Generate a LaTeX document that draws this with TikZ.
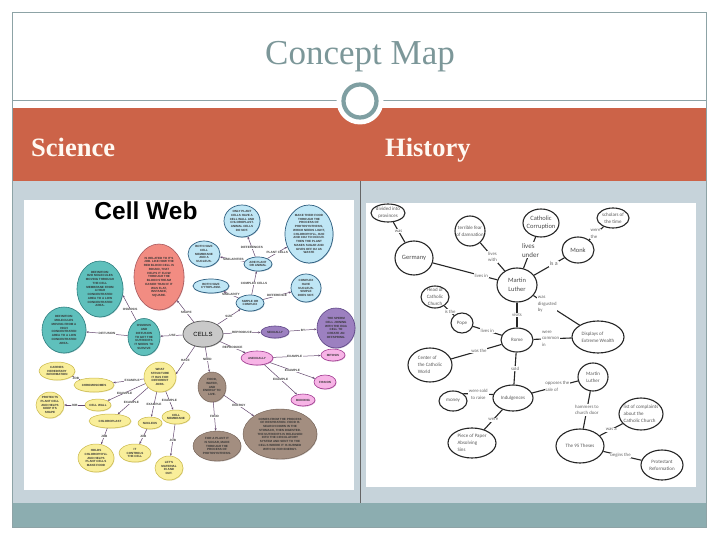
\documentclass[tikz,border=0pt]{standalone}
\usepackage{fontspec}
\setmainfont{Liberation Serif}
\newfontfamily\lsans{Liberation Sans}
\newfontfamily\carl{Carlito}
\usetikzlibrary{shapes.geometric,arrows.meta,shadows}
\definecolor{panelc}{HTML}{C6D3DA}
\definecolor{footc}{HTML}{8CADB0}
\definecolor{framec}{HTML}{8DA3A6}
\definecolor{orangec}{HTML}{CC6348}
\definecolor{titlec}{HTML}{7C9799}
\definecolor{ringc}{HTML}{7F9FA2}
\definecolor{cteal}{HTML}{5FC0BC}\definecolor{dteal}{HTML}{2F7F80}
\definecolor{cred}{HTML}{F28C82}\definecolor{dred}{HTML}{A85A5F}
\definecolor{cblue}{HTML}{BFE6F5}\definecolor{dblue}{HTML}{2F5F80}
\definecolor{cyel}{HTML}{F9EE9A}\definecolor{dyel}{HTML}{C9B84A}
\definecolor{cpur}{HTML}{9C80C0}\definecolor{dpur}{HTML}{5D4585}
\definecolor{cpink}{HTML}{F7B4E6}\definecolor{dpink}{HTML}{A03A90}
\definecolor{cbrown}{HTML}{A38E80}\definecolor{dbrown}{HTML}{6E5D52}
\definecolor{cgrey}{HTML}{C9C9C9}\definecolor{dgrey}{HTML}{555555}
\definecolor{edgec}{HTML}{64486F}
\tikzset{
  ell/.style={ellipse,inner sep=0pt,draw},
  soft/.style={drop shadow={shadow xshift=.5pt,shadow yshift=-.7pt,opacity=.45,fill=#1}},
  teal/.style={fill=cteal,draw=dteal,line width=.6pt,soft=dteal},
  redl/.style={fill=cred,draw=dred,line width=.6pt,soft=dred},
  blue/.style={fill=cblue,draw=dblue,line width=.7pt,soft=dblue},
  yel/.style={fill=cyel,draw=dyel,line width=.5pt,soft=dyel},
  pur/.style={fill=cpur,draw=dpur,line width=.6pt,soft=dpur},
  pnk/.style={fill=cpink,draw=dpink,line width=.6pt,soft=dpink},
  brn/.style={fill=cbrown,draw=dbrown,line width=.4pt,soft=dbrown},
  gry/.style={fill=cgrey,draw=dgrey,line width=.7pt,soft=dgrey},
  blk/.style={fill=white,draw=black!85,line width=1.1pt},
  sci/.style={font=\lsans\bfseries\fontsize{3}{3.75}\selectfont,text=black!80,align=center,inner sep=0pt},
  hist/.style={font=\carl\fontsize{5}{7}\selectfont,text=black!65,align=center,inner sep=0pt},
  histl/.style={font=\carl\fontsize{5}{7}\selectfont,text=black!65,align=left,inner sep=0pt},
  histb/.style={font=\carl\fontsize{6.5}{8.5}\selectfont,text=black!70,align=center,inner sep=0pt},
  sedge/.style={draw=edgec,line width=.5pt,-{Stealth[length=2.5pt,width=2pt]}},
  hedge/.style={draw=black!85,line width=1.1pt},
  slab/.style={font=\lsans\bfseries\fontsize{3.1}{3.8}\selectfont,text=black!75,fill=white,inner sep=.4pt,align=center},
  hlab/.style={font=\carl\fontsize{4.8}{6.6}\selectfont,text=black!60,fill=white,inner sep=.8pt,align=center},
  hlabl/.style={font=\carl\fontsize{4.8}{6.6}\selectfont,text=black!60,fill=white,inner sep=.8pt,align=left},
}
% name, x, y, rx, ry, shape style, text style, text
\newcommand{\el}[8]{\node[ell,#6,minimum width=2*#4pt,minimum height=2*#5pt,
  label={[#7]center:{#8}}] (#1) at (#2,#3) {};}
\begin{document}
\begin{tikzpicture}[x=1pt,y=-1pt]
\useasboundingbox (0,0) rectangle (720,540);
\fill[white] (0,0) rectangle (720,540);
\fill[panelc] (12.5,181) rectangle (706.5,503);
\fill[footc] (12.5,503) rectangle (706.5,527);
\fill[orangec] (12.5,108) rectangle (706.5,181);
\draw[framec,line width=.7pt] (12.5,12.5) rectangle (706.5,527);
\draw[framec,line width=.7pt] (12.5,100) -- (706.5,100);
\draw[black!60,line width=.5pt] (360,181) -- (360,503);
\fill[white] (360,101) circle (23.5);
\draw[ringc,line width=4.2pt] (360,101) circle (16.5);
\node[font=\fontsize{35}{40}\selectfont,text=titlec,inner sep=0pt] (title) at (360,57) {Concept Map};
\node[font=\bfseries\fontsize{26.5}{30}\selectfont,text=white!95!orange,inner sep=0pt,anchor=base west] (sci) at (31,157) {Science};
\node[font=\bfseries\fontsize{26.5}{30}\selectfont,text=white!95!orange,inner sep=0pt,anchor=base west] (his) at (385,157) {History};
% image backgrounds
\fill[white] (24,200) rectangle (354,490);
\fill[white] (366,203) rectangle (696,487);
% ---------- Science ----------
\node[font=\lsans\bfseries\fontsize{24.5}{30}\selectfont,inner sep=0pt] (cw) at (146,211) {Cell Web};
\el{red}{159}{277}{25}{33}{redl}{sci}{IS RELATED TO IT'S\\JOB. LIKE HOW THE\\RED BLOOD CELL IS\\ROUND, THAT\\HELPS IT FLOW\\THROUGH THE\\BLOOD STREAM\\EASIER THAN IF IT\\WAS FLAT,\\INSTANCE,\\SQUARE.}
\el{defa}{100}{289}{23}{28}{teal}{sci}{DEFINITION:\\H2O MOLECULES\\MOVING THROUGH\\THE CELL\\MEMBRANE FROM\\A HIGH\\CONCENTRATED\\AREA TO A LOW\\CONCENTRATED\\AREA.}
\el{defb}{64}{330}{22}{23}{teal}{sci}{DEFINITION:\\MOLECULES\\MOVING FROM A\\HIGH\\CONCENTRATED\\AREA TO A LOW\\CONCENTRATED\\AREA.}
\el{osm}{144}{337}{16}{18.5}{teal}{sci}{OSMOSIS\\AND\\DIFFUSION\\TO GET THE\\NUTRIENTS\\IT NEEDS TO\\SURVIVE}
\el{cells}{203}{334}{20}{13}{gry}{font=\lsans\fontsize{6}{7}\selectfont,inner sep=0pt}{CELLS}
\el{only}{242}{221}{18}{16}{blue}{sci}{ONLY PLANT\\CELLS HAVE A\\CELL WALL AND\\CHLOROPLAST.\\ANIMAL CELLS\\DO NOT.}
\el{sun}{309}{234}{24}{29}{blue}{sci}{MAKE THEIR FOOD\\THROUGH THE\\PROCESS OF\\PHOTOSYNTHESIS,\\WHICH NEEDS LIGHT,\\CHLOROPHYLL, H2O\\AND CO2 TO OCCUR.\\THEN THE PLANT\\MAKES SUGAR AND\\GIVES OFF O2 AS\\WASTE}
\el{andp}{258}{264}{14}{7}{blue}{sci}{ARE PLANT\\OR ANIMAL}
\el{both}{204}{254}{16}{13}{blue}{sci}{BOTH HAVE\\CELL\\MEMBRANE\\AND A\\NUCLEUS.}
\el{cyto}{211}{286}{18}{7}{blue}{sci}{BOTH HAVE\\CYTOPLASM.}
\el{simp}{250}{303}{14}{8}{blue}{sci}{SIMPLE OR\\COMPLEX}
\el{cplx}{306}{288}{15}{14}{blue}{sci}{COMPLEX\\HAVE\\NUCLEUS.\\SIMPLE\\DOES NOT.}
\el{sexu}{275}{332}{14}{6}{pur}{sci}{SEXUALLY}
\el{sperm}{336}{328}{19}{20}{pur}{sci}{THE SPERM\\CELL JOINING\\WITH THE EGG\\CELL TO\\CREATE AN\\OFFSPRING.}
\el{carr}{57}{371}{18}{9}{yel}{sci}{CARRIES\\HEREDITARY\\INFORMATION}
\el{chro}{94}{385}{20}{7}{yel}{sci}{CHROMOSOMES}
\el{what}{160}{377}{16}{15}{yel}{sci}{WHAT\\STRUCTURE\\IT HAS FOR\\DIFFERENT\\JOBS.}
\el{prot}{50}{405}{14}{13}{yel}{sci}{PROTECTS\\PLANT CELL\\AND HELPS\\KEEP ITS\\SHAPE}
\el{wall}{98}{405}{13}{6}{yel}{sci}{CELL WALL}
\el{chlo}{110}{421}{21}{7}{yel}{sci}{CHLOROPLAST}
\el{nucl}{150}{423}{12}{6}{yel}{sci}{NUCLEUS}
\el{memb}{176}{417}{14}{7}{yel}{sci}{CELL\\MEMBRANE}
\el{hold}{96}{458}{18}{14}{yel}{sci}{HOLDS\\CHLOROPHYLL\\AND HELPS\\PLANT CELLS\\MAKE FOOD}
\el{ctrl}{135}{453}{16}{9}{yel}{sci}{IT\\CONTROLS\\THE CELL}
\el{lets}{169}{468}{14}{12}{yel}{sci}{LET'S\\MATERIAL\\IN AND\\OUT.}
\el{asex}{257}{358}{16}{7}{pnk}{sci}{ASEXUALLY}
\el{mito}{333}{355}{12}{6}{pnk}{sci}{MITOSIS}
\el{fiss}{325}{382}{11}{7}{pnk}{sci}{FISSION}
\el{budd}{303}{400}{12}{6}{pnk}{sci}{BUDDING}
\el{food}{212}{387}{14}{15}{brn}{sci}{FOOD,\\WATER,\\AND\\ENERGY TO\\LIVE.}
\el{forp}{217}{446}{24}{15}{brn}{sci}{FOR A PLANT IT\\IS SUGAR, MADE\\THROUGH THE\\PROCESS OF\\PHOTOSYNTHESIS.}
\el{come}{280}{434}{37}{25}{brn}{sci}{COMES FROM THE PROCESS\\OF RESPIRATION. FOOD IS\\SEARCH DOWN IN THE\\STOMACH, THEN DIGESTED.\\THE NUTRIENTS IS RELEASED\\INTO THE CIRCULATORY\\SYSTEM AND SENT TO THE\\CELLS WHERE IT IS BURNED\\WITH O2 FOR ENERGY.}
% science edges
\draw[sedge] (cells) -- node[slab,pos=.45]{SHAPE} (red);
\draw[sedge] (cells) -- node[slab,pos=.45]{USE} (osm);
\draw[sedge] (osm.115) -- node[slab,pos=.45]{OSMOSIS} (defa.-15);
\draw[sedge] (osm) -- node[slab]{DIFFUSION} (defb);
\draw[sedge] (cells) -- node[slab]{SIZE} (simp);
\draw[sedge] (simp) -- node[slab]{COMPLEX CELLS} (andp);
\draw[sedge] (andp) -- node[slab,pos=.45]{DIFFERENCES} (only);
\draw[sedge] (andp) -- node[slab]{PLANT CELLS} (sun);
\draw[sedge] (andp) -- node[slab,pos=.45]{SIMILARITIES} (both);
\draw[sedge] (simp) -- node[slab]{SIMILARITY} (cyto);
\draw[sedge] (simp) -- node[slab]{DIFFERENCE} (cplx);
\draw[sedge] (cells) -- node[slab]{REPRODUCE} (sexu);
\draw[sedge] (sexu) -- node[slab]{BY} (sperm);
\draw[sedge] (cells) -- node[slab]{REPRODUCE} (asex);
\draw[sedge] (asex) -- node[slab,pos=.45]{EXAMPLE} (mito);
\draw[sedge] (asex) -- node[slab]{EXAMPLE} (fiss);
\draw[sedge] (asex) -- node[slab]{EXAMPLE} (budd);
\draw[sedge] (cells) -- node[slab]{NEED} (food);
\draw[sedge] (food) -- node[slab]{FOOD} (forp);
\draw[sedge] (food) -- node[slab]{ENERGY} (come);
\draw[sedge] (cells) -- node[slab]{HAVE} (what.10);
\draw[sedge] (what) -- node[slab,pos=.38]{EXAMPLE} (chro);
\draw[sedge] (what) -- node[slab,pos=.55]{EXAMPLE} (wall);
\draw[sedge] (what) -- node[slab,pos=.55]{EXAMPLE} (chlo);
\draw[sedge] (what) -- node[slab]{EXAMPLE} (nucl);
\draw[sedge] (what) -- node[slab]{EXAMPLE} (memb);
\draw[sedge] (chro) -- node[slab]{JOB} (carr);
\draw[sedge] (wall) -- node[slab]{JOB} (prot);
\draw[sedge] (chlo) -- node[slab]{JOB} (hold);
\draw[sedge] (nucl) -- node[slab]{JOB} (ctrl);
\draw[sedge] (memb) -- node[slab]{JOB} (lets);
% ---------- History ----------
\el{divi}{388}{213}{17}{9}{blk}{hist}{divided into\\provinces}
\el{germ}{414}{258}{19}{17}{blk}{histb}{Germany}
\el{terr}{470}{231}{15}{15}{blk}{hist}{terrible fear\\of damnation}
\el{corr}{541}{223}{18}{14}{blk}{histb}{Catholic\\Corruption}
\el{mart}{517}{285}{20}{17}{blk}{histb}{Martin\\Luther}
\el{head}{435}{297}{14}{11}{blk}{hist}{Head of\\Catholic\\Church}
\el{pope}{462}{323}{11}{10}{blk}{hist}{Pope}
\el{rome}{517}{340}{16}{12}{blk}{hist}{Rome}
\el{cent}{430}{365}{22}{17}{blk}{histl}{Center of\\the Catholic\\World}
\el{mone}{453}{401}{14}{10}{blk}{hist}{money}
\el{indu}{513}{398}{20}{13}{blk}{hist}{Indulgences}
\el{piec}{472}{443}{24}{15}{blk}{histl}{Piece of Paper\\Absolving\\Sins}
\el{schl}{613}{218}{16}{10}{blk}{hist}{scholars of\\the time}
\el{monk}{578}{250}{16}{13}{blk}{histb}{Monk}
\el{disp}{598}{337}{26}{16}{blk}{histl}{Displays of\\Extreme Wealth}
\el{marb}{593}{377}{15}{14}{blk}{hist}{Martin\\Luther}
\el{list}{641}{414}{22}{16}{blk}{histl}{list of complaints\\about the\\Catholic Church}
\el{thes}{580}{446}{24}{17}{blk}{hist}{The 95 Theses}
\el{prts}{662}{465}{21}{15}{blk}{hist}{Protestant\\Reformation}
% history edges
\draw[hedge] (divi) -- node[hlab,pos=.45]{was} (germ);
\draw[hedge] (terr) -- node[hlab,pos=.5]{lives\\with} (mart);
\draw[hedge] (germ) -- node[hlab,pos=.75]{lives in} (mart);
\draw[hedge] (corr) -- node[font=\carl\fontsize{7}{9}\selectfont,text=black!70,fill=white,inner sep=.8pt,align=left,pos=.42]{lives\\under} (mart);
\draw[hedge] (mart) -- node[hlab,pos=.65,font=\carl\fontsize{6}{7}\selectfont]{is a} (monk);
\draw[hedge] (monk) -- node[hlabl,pos=.45]{were\\the} (schl);
\draw[hedge] (mart) -- node[hlabl,pos=.3]{was\\disgusted\\by} (disp);
\draw[hedge] (mart) -- node[hlab]{visits} (rome);
\draw[hedge] (head) -- node[hlab,pos=.6]{is the} (pope);
\draw[hedge] (pope) -- node[hlab]{lives in} (rome);
\draw[hedge] (rome) -- node[hlabl,pos=.45]{were\\common\\in} (disp);
\draw[hedge] (rome) -- node[hlab,pos=.45]{was the} (cent);
\draw[hedge] (rome) -- node[hlab]{sold} (indu);
\draw[hedge] (indu.170) -- node[hlab]{were sold\\to raise} (mone.35);
\draw[hedge] (indu) -- node[hlab]{were} (piec);
\draw[hedge] (indu) -- node[hlabl,pos=.55]{opposes the\\sale of} (marb);
\draw[hedge] (marb) -- node[hlab,pos=.5]{hammers to\\church door} (thes);
\draw[hedge] (thes) -- node[hlab]{was a} (list);
\draw[hedge] (thes) -- node[hlab,pos=.45]{begins the} (prts);
\end{tikzpicture}
\end{document}
